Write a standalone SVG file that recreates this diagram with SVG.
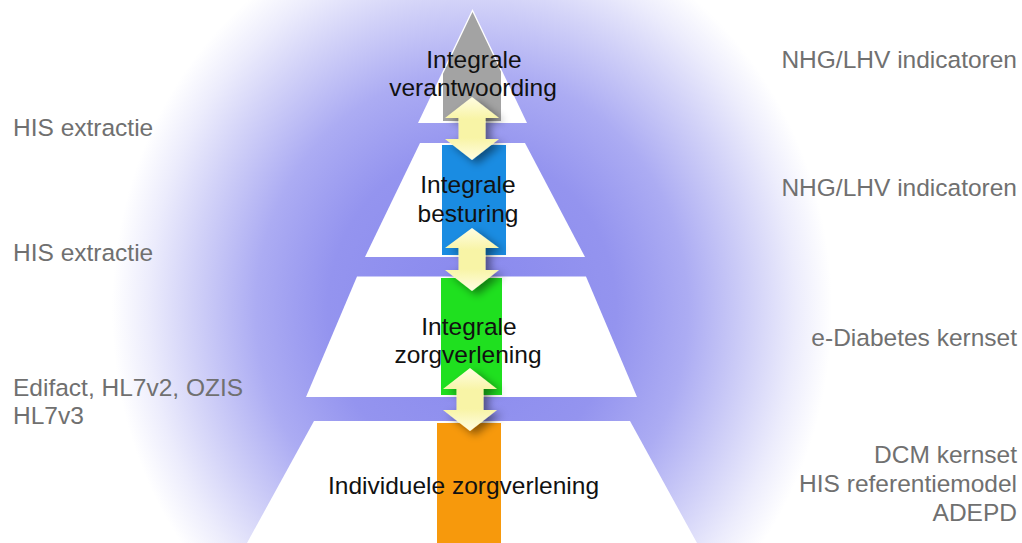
<svg xmlns="http://www.w3.org/2000/svg" width="1022" height="543" viewBox="0 0 1022 543">
  <defs>
    <radialGradient id="glow" gradientUnits="userSpaceOnUse" cx="472" cy="310" r="360" gradientTransform="translate(472 310) scale(1 1.1) translate(-472 -310)">
      <stop offset="0" stop-color="#8888ee"/>
      <stop offset="0.4" stop-color="#9494ef"/>
      <stop offset="0.6" stop-color="#acacf3"/>
      <stop offset="0.78" stop-color="#d2d2f8"/>
      <stop offset="0.9" stop-color="#ececfc"/>
      <stop offset="1" stop-color="#ffffff"/>
    </radialGradient>
    <linearGradient id="arrowFill" x1="0" y1="0" x2="0" y2="1">
      <stop offset="0" stop-color="#fffde2"/>
      <stop offset="0.35" stop-color="#f8f4a6"/>
      <stop offset="0.65" stop-color="#f8f4a6"/>
      <stop offset="1" stop-color="#fffde2"/>
    </linearGradient>
    <filter id="shadow" x="-50%" y="-30%" width="200%" height="160%">
      <feDropShadow dx="5" dy="4" stdDeviation="4" flood-color="#000" flood-opacity="0.45"/>
    </filter>
    <clipPath id="apexClip">
      <polygon points="472.5,12 420.5,121 524.5,121"/>
    </clipPath>
  </defs>
  <style>
    .level { fill: #ffffff; }
    .label { font-family: "Liberation Sans", Arial, sans-serif; font-size: 24.5px; fill: #111111; text-anchor: middle; }
    .side { font-family: "Liberation Sans", Arial, sans-serif; font-size: 24.5px; fill: #707070; }
    .right { text-anchor: end; }
    .arrow { fill: url(#arrowFill); filter: url(#shadow); }
  </style>

  <!-- background glow -->
  <rect x="0" y="0" width="1022" height="543" fill="url(#glow)"/>

  <!-- pyramid levels -->
  <g id="level-verantwoording">
    <polygon class="level" points="472.5,9 418,123 527,123"/>
    <rect x="443" y="0" width="58" height="123" fill="#a3a3a3" clip-path="url(#apexClip)"/>
  </g>
  <g id="level-besturing">
    <polygon class="level" points="420,143 525,143 585,257 365,257"/>
    <rect x="442" y="145" width="64" height="110" fill="#1a8ce2"/>
  </g>
  <g id="level-zorgverlening">
    <polygon class="level" points="357,276.5 586,276.5 637,397 306,397"/>
    <rect x="441" y="278" width="61" height="117" fill="#1fe01f"/>
  </g>
  <g id="level-individueel">
    <polygon class="level" points="314,421 630,421 697,543 247,543"/>
    <rect x="437" y="423" width="64" height="120" fill="#f7990c"/>
  </g>

  <!-- double-headed arrows between levels -->
  <g id="connectors">
    <polygon class="arrow" points="472,97 499,118 485.5,118 485.5,139 499,139 472,160 445,139 458.5,139 458.5,118 445,118"/>
    <polygon class="arrow" points="472,228 499,248 485.5,248 485.5,270 499,270 472,291 445,270 458.5,270 458.5,248 445,248"/>
    <polygon class="arrow" points="470,368 497,389 483.5,389 483.5,410 497,410 470,431 443,410 456.5,410 456.5,389 443,389"/>
  </g>

  <!-- level labels -->
  <g id="labels">
    <text class="label" x="474" y="68">Integrale</text>
    <text class="label" x="473" y="96">verantwoording</text>
    <text class="label" x="468" y="193">Integrale</text>
    <text class="label" x="468" y="222">besturing</text>
    <text class="label" x="469" y="335">Integrale</text>
    <text class="label" x="468" y="363">zorgverlening</text>
    <text class="label" x="463.5" y="494">Individuele zorgverlening</text>
  </g>

  <!-- exchange formats (left) -->
  <g id="left-notes">
    <text class="side" x="13" y="136">HIS extractie</text>
    <text class="side" x="13" y="261">HIS extractie</text>
    <text class="side" x="13" y="396">Edifact, HL7v2, OZIS</text>
    <text class="side" x="13" y="424">HL7v3</text>
  </g>

  <!-- content standards (right) -->
  <g id="right-notes">
    <text class="side right" x="1017" y="68">NHG/LHV indicatoren</text>
    <text class="side right" x="1017" y="196">NHG/LHV indicatoren</text>
    <text class="side right" x="1017" y="346">e-Diabetes kernset</text>
    <text class="side right" x="1017" y="463">DCM kernset</text>
    <text class="side right" x="1017" y="492">HIS referentiemodel</text>
    <text class="side right" x="1017" y="521">ADEPD</text>
  </g>
</svg>
